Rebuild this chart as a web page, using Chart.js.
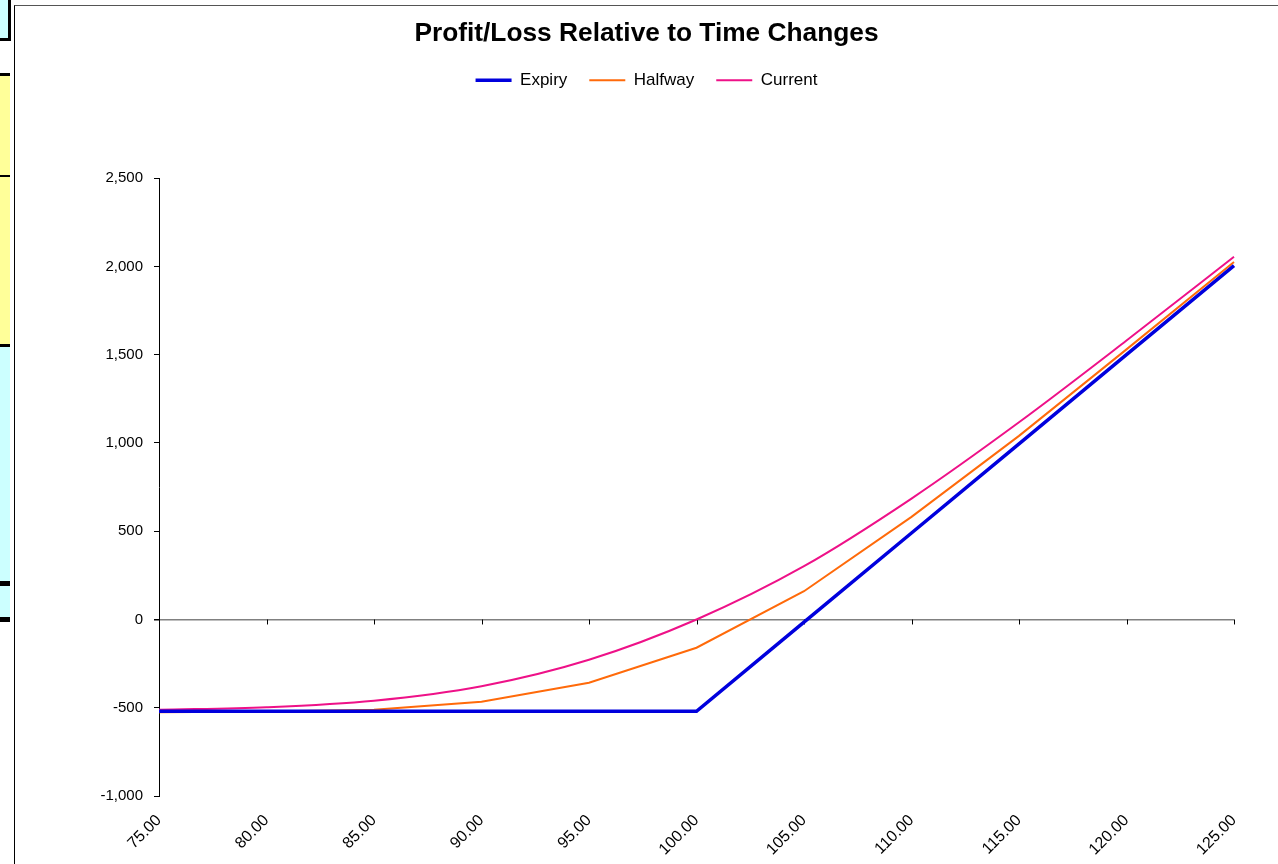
<!DOCTYPE html>
<html>
<head>
<meta charset="utf-8">
<script src="https://cdn.jsdelivr.net/npm/chart.js@4.4.1/dist/chart.umd.min.js"></script>
<style>
  html, body { margin: 0; padding: 0; background: #fff; width: 1278px; height: 864px; overflow: hidden; }
  .cell { position: absolute; left: 0; width: 10px; }
  #frame { position: absolute; left: 14px; top: 5px; width: 1264px; height: 859px; border-left: 1.5px solid #000; border-top: 1px solid #555; box-sizing: border-box; background: #fff; }
  #wrap { position: absolute; left: 15px; top: 6px; width: 1263px; height: 858px; }
</style>
</head>
<body>
<div class="cell" style="top:0;height:38px;background:#ccffff;border-right:3px solid #000;border-bottom:3px solid #000;width:8px;"></div>
<div class="cell" style="top:74px;height:271px;background:#ffff99;"></div>
<div class="cell" style="top:73px;height:3px;background:#000;"></div>
<div class="cell" style="top:175px;height:2px;background:#000;"></div>
<div class="cell" style="top:344px;height:3px;background:#000;"></div>
<div class="cell" style="top:347px;height:273px;background:#ccffff;"></div>
<div class="cell" style="top:581px;height:5px;background:#000;"></div>
<div class="cell" style="top:617px;height:5px;background:#000;"></div>
<div id="frame"></div>
<div id="wrap"><canvas id="c"></canvas></div>
<script>
const categories = ['75.00','80.00','85.00','90.00','95.00','100.00','105.00','110.00','115.00','120.00','125.00'];
const expiry  = [-520, -520, -520, -520, -520, -520, -15, 490, 995, 1500, 2005];
const halfway = [-525, -522, -512, -466, -358, -160, 160, 581, 1040, 1530, 2025];
const current = [-512, -497, -460, -378, -228, 0, 302, 685, 1117, 1580, 2055];
const yMin = -1000, yMax = 2500, yStep = 500;

const FONT = 'Arial, "Liberation Sans", sans-serif';

const zeroTicks = {
  id: 'zeroTicks',
  beforeDatasetsDraw(chart) {
    const x = chart.scales.x, y = chart.scales.y;
    const y0 = y.getPixelForValue(0);
    const ctx = chart.ctx;
    ctx.save();
    ctx.strokeStyle = '#000';
    ctx.lineWidth = 1;
    for (let i = 1; i < categories.length; i++) {
      const px = Math.round(x.getPixelForValue(i)) + 0.5;
      ctx.beginPath();
      ctx.moveTo(px, y0);
      ctx.lineTo(px, y0 + 5);
      ctx.stroke();
    }
    ctx.restore();
  }
};

new Chart(document.getElementById('c'), {
  type: 'line',
  data: {
    labels: categories,
    datasets: [
      { label: 'Expiry', data: expiry, borderColor: '#0000dd', backgroundColor: '#0000dd', borderWidth: 3.5, pointRadius: 0, tension: 0 },
      { label: 'Halfway', data: halfway, borderColor: '#ff6a0a', backgroundColor: '#ff6a0a', borderWidth: 2, pointRadius: 0, tension: 0 },
      { label: 'Current', data: current, borderColor: '#ee1188', backgroundColor: '#ee1188', borderWidth: 2, pointRadius: 0, cubicInterpolationMode: 'monotone' }
    ]
  },
  options: {
    responsive: true,
    maintainAspectRatio: false,
    animation: false,
    layout: { padding: 0 },
    plugins: {
      title: {
        display: true,
        text: 'Profit/Loss Relative to Time Changes',
        color: '#000',
        font: { family: FONT, size: 26.3, weight: 'bold', lineHeight: 1.2 },
        padding: { top: 12.2, bottom: 0 }
      },
      legend: {
        display: true,
        weight: 1800,
        labels: {
          color: '#000',
          font: { family: FONT, size: 17 },
          usePointStyle: true,
          pointStyle: 'line',
          pointStyleWidth: 36,
          padding: 22
        }
      },
      subtitle: {
        display: true,
        text: ' ',
        font: { family: FONT, size: 10, lineHeight: 1 },
        padding: { top: 69.4, bottom: 0 }
      },
      tooltip: { enabled: false }
    },
    scales: {
      x: {
        type: 'category',
        offset: false,
        grid: { display: false },
        border: { display: false },
        ticks: {
          color: '#000',
          font: { family: FONT, size: 16 },
          maxRotation: 45,
          minRotation: 45,
          autoSkip: false,
          padding: 7
        },
        afterFit(scale) { scale.height = 68; }
      },
      y: {
        min: yMin,
        max: yMax,
        border: { display: true, color: '#000', width: 1 },
        grid: {
          drawOnChartArea: true,
          color: (ctx) => (ctx.tick && ctx.tick.value === 0) ? '#808080' : 'rgba(0,0,0,0)',
          lineWidth: (ctx) => (ctx.tick && ctx.tick.value === 0) ? 1.5 : 1,
          tickColor: '#000',
          tickLength: 5
        },
        ticks: {
          stepSize: yStep,
          color: '#000',
          font: { family: FONT, size: 15 },
          padding: 11,
          callback: (v) => Number(v).toLocaleString('en-US')
        },
        afterFit(scale) { scale.width = 144; }
      },
      yRightSpace: {
        position: 'right',
        display: true,
        min: yMin,
        max: yMax,
        grid: { display: false, drawOnChartArea: false },
        border: { display: false },
        ticks: { display: false },
        afterFit(scale) { scale.width = 44; }
      }
    }
  },
  plugins: [zeroTicks]
});
</script>
</body>
</html>
